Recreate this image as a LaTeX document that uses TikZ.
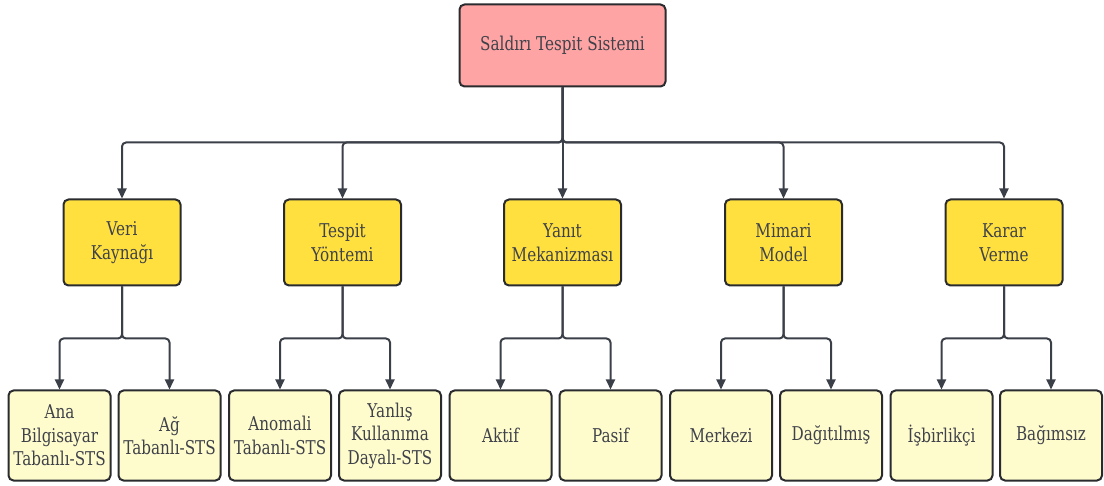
\documentclass[tikz,border=0pt]{standalone}
\usepackage{fontspec}
\setmainfont{DejaVu Serif}[FakeStretch=0.8]
\usetikzlibrary{arrows.meta}
\definecolor{rootpink}{HTML}{FFA4A4}
\definecolor{midyellow}{HTML}{FFE03E}
\definecolor{leafyellow}{HTML}{FEFBCC}
\definecolor{linegray}{HTML}{3B3F48}
\definecolor{bordergray}{HTML}{2A2B2E}
\definecolor{textgray}{HTML}{3F424A}
\tikzset{
  box/.style={draw=bordergray, line width=2pt, rounded corners=5pt, align=center,
    text=textgray, inner sep=2pt, font=\fontsize{19}{23.5}\selectfont},
  rootbox/.style={box, fill=rootpink, minimum width=206pt, minimum height=82pt},
  midbox/.style={box, fill=midyellow, minimum width=117pt, minimum height=86pt},
  leafbox/.style={box, fill=leafyellow, minimum width=102pt, minimum height=90pt},
  arr/.style={draw=linegray, line width=2pt, -{Triangle[length=10pt,width=9pt]}, rounded corners=4pt},
}
\begin{document}
\begin{tikzpicture}[x=1pt,y=-1pt]
\useasboundingbox (0,0) rectangle (1104,486);
\node[rootbox] (root) at (562.5,45.5) {Saldırı Tespit Sistemi};
\node[midbox] (k1) at (122,242.5) {Veri\\Kaynağı};
\node[midbox] (k2) at (342.5,242.5) {Tespit\\Yöntemi};
\node[midbox] (k3) at (562.5,242.5) {Yanıt\\Mekanizması};
\node[midbox] (k4) at (783.5,242.5) {Mimari\\Model};
\node[midbox] (k5) at (1004,242.5) {Karar\\Verme};
\node[leafbox] (a1) at (59.5,435.5) {Ana\\Bilgisayar\\Tabanlı-STS};
\node[leafbox] (a2) at (169.5,435.5) {Ağ\\Tabanlı-STS};
\node[leafbox] (b1) at (280,435.5) {Anomali\\Tabanlı-STS};
\node[leafbox] (b2) at (390,435.5) {Yanlış\\Kullanıma\\Dayalı-STS};
\node[leafbox] (c1) at (500.5,435.5) {Aktif};
\node[leafbox] (c2) at (610.5,435.5) {Pasif};
\node[leafbox] (d1) at (721,435.5) {Merkezi};
\node[leafbox] (d2) at (831,435.5) {Dağıtılmış};
\node[leafbox] (e1) at (941.5,435.5) {İşbirlikçi};
\node[leafbox] (e2) at (1051,435.5) {Bağımsız};
\foreach \k in {k1,k2,k4,k5}{
  \draw[arr] (root.south) -- ++(0,55) -| (\k.north);
}
\draw[arr] (root.south) -- (k3.north);
\foreach \p/\l/\r in {k1/a1/a2,k2/b1/b2,k3/c1/c2,k4/d1/d2,k5/e1/e2}{
  \draw[arr] (\p.south) -- ++(0,52) -| (\l.north);
  \draw[arr] (\p.south) -- ++(0,52) -| (\r.north);
}
\end{tikzpicture}
\end{document}
